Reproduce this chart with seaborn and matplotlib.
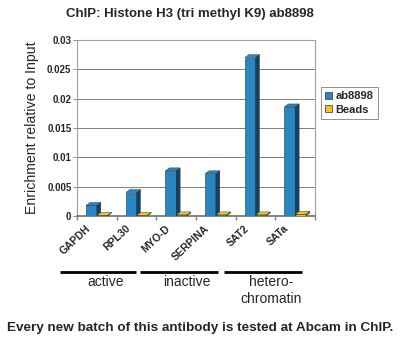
import matplotlib
matplotlib.use("Agg")
import matplotlib.pyplot as plt
from matplotlib.patches import Polygon
import matplotlib.transforms as mtrans
import seaborn as sns
import pandas as pd

categories = ["GAPDH", "RPL30", "MYO-D", "SERPINA", "SAT2", "SATa"]
ab8898 = [0.0018, 0.0040, 0.0077, 0.0072, 0.0270, 0.0186]
beads = [0.0001, 0.0001, 0.0002, 0.0002, 0.0002, 0.0003]
groups = ["active", "inactive", "hetero-\nchromatin"]
yticks = [0, 0.005, 0.01, 0.015, 0.02, 0.025, 0.03]
yticklabels = ["0", "0.005", "0.01", "0.015", "0.02", "0.025", "0.03"]

df = pd.DataFrame({
    "gene": categories * 2,
    "value": ab8898 + beads,
    "series": ["ab8898"] * len(categories) + ["Beads"] * len(categories),
})

sns.set_theme(style="white")
plt.rcParams["font.family"] = ["Liberation Sans", "DejaVu Sans"]

fig = plt.figure(figsize=(4.0, 3.41), dpi=100)
ax = fig.add_axes([77 / 400, 1 - 216 / 341, (315 - 77) / 400, (216 - 40) / 341])

colors = {"ab8898": "#2a85c0", "Beads": "#f2c21f"}
sides = {"ab8898": "#16425f", "Beads": "#9a7810"}
sns.barplot(data=df, x="gene", y="value", hue="series", palette=colors,
            ax=ax, width=0.54, saturation=1, edgecolor="#173a55", linewidth=0.4,
            legend=False, zorder=3)

# fake 3D depth derived from the bars
dx, dy = 0.1, 0.0005
for cont, name in zip(ax.containers, ["ab8898", "Beads"]):
    for p in cont.patches:
        x0, y0 = p.get_x(), p.get_y()
        w, h = p.get_width(), p.get_height()
        side = Polygon([(x0 + w, y0), (x0 + w + dx, y0 + dy), (x0 + w + dx, y0 + h + dy), (x0 + w, y0 + h)],
                       closed=True, facecolor=sides[name], edgecolor="#10304a", lw=0.3, zorder=3)
        top = Polygon([(x0, y0 + h), (x0 + dx, y0 + h + dy), (x0 + w + dx, y0 + h + dy), (x0 + w, y0 + h)],
                      closed=True, facecolor=colors[name], edgecolor="#10304a", lw=0.3, zorder=3)
        ax.add_patch(side)
        ax.add_patch(top)

ax.set_ylim(0, 0.03)
ax.set_xlim(-0.5, len(categories) - 0.5)
ax.set_yticks(yticks)
ax.set_yticklabels(yticklabels, fontsize=7, fontweight="bold")
ax.yaxis.grid(True, color="#808080", lw=0.7, zorder=0)
ax.set_axisbelow(True)
for s in ax.spines.values():
    s.set_color("#a0a0a0")
    s.set_linewidth(0.8)
ax.spines["bottom"].set_color("#707070")
ax.spines["bottom"].set_linewidth(1.2)
ax.tick_params(axis="y", length=3, width=0.6, color="#808080", pad=1, left=True)
ax.set_xticks(range(len(categories)))
ax.set_xticks([i + 0.5 for i in range(-1, len(categories))], minor=True)
ax.tick_params(axis="x", which="major", length=0, pad=8)
ax.tick_params(axis="x", which="minor", length=3, color="#808080", bottom=True)
ax.set_xticklabels(categories, rotation=43, ha="right", va="center",
                   rotation_mode="anchor", fontsize=7.5, fontweight="bold")
shift = mtrans.ScaledTranslation(-8 / 100, 0, fig.dpi_scale_trans)
for lab in ax.get_xticklabels():
    lab.set_transform(lab.get_transform() + shift)
ax.set_xlabel("")
ax.set_ylabel("Enrichment relative to Input", fontsize=10.2, labelpad=6)

fig.text(0.475, 1 - 14 / 341, "ChIP: Histone H3 (tri methyl K9) ab8898",
         ha="center", va="center", fontsize=9.5, fontweight="bold")

# group annotations
trans = ax.get_xaxis_transform()
span_ext = [(-0.93, -0.01), (-0.91, 0.05), (-0.79, 0.17)]
spans = [(0, 1), (2, 3), (4, 5)]
for (a, b), (ea, eb), g in zip(spans, span_ext, groups):
    xa, xb = a + ea, b + eb
    ax.plot([xa, xb], [-0.318, -0.318], transform=trans, color="black", lw=2, clip_on=False,
            solid_capstyle="butt")
    ax.text((xa + xb) / 2 + 0.2, -0.338, g, transform=trans, ha="center", va="top",
            fontsize=10, linespacing=1.2)

# legend
handles = [plt.Rectangle((0, 0), 1, 1, facecolor=colors[k], edgecolor="#333333", lw=0.5)
           for k in ["ab8898", "Beads"]]
leg = fig.legend(handles, ["ab8898", "Beads"], loc="upper left",
                 bbox_to_anchor=(321 / 400, 1 - 87 / 341),
                 prop={"weight": "bold", "size": 8}, frameon=True, fancybox=False,
                 handlelength=0.6, handleheight=0.6, handletextpad=0.3,
                 borderpad=0.4, labelspacing=0.3, borderaxespad=0)
leg.get_frame().set_edgecolor("#606060")
leg.get_frame().set_linewidth(0.6)

fig.text(0.5, 1 - 328 / 341, "Every new batch of this antibody is tested at Abcam in ChIP.",
         ha="center", va="center", fontsize=9.7, fontweight="bold")

fig.savefig("out.png", dpi=100)
